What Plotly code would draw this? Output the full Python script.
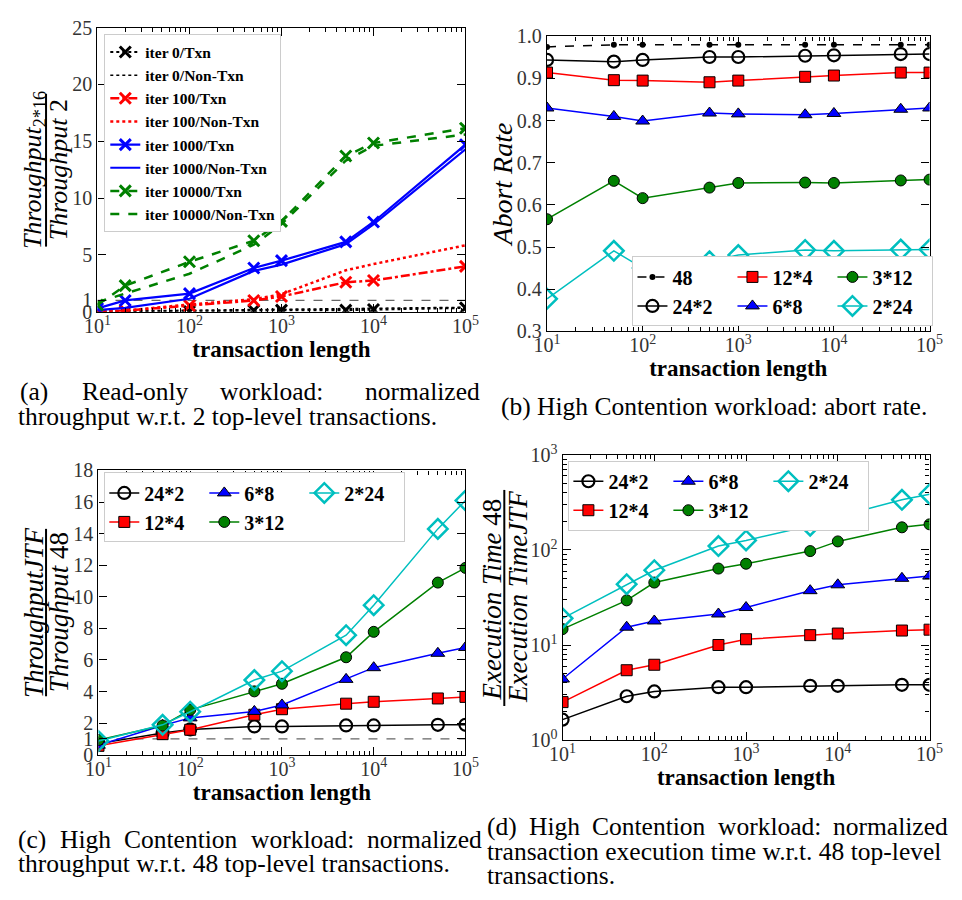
import plotly.graph_objects as go

W, H = 962, 900
SERIF = "Liberation Serif"


def px(x):
    return x / W


def py(y):
    return 1 - y / H


# ---------------- data ----------------
x_a = [10, 20, 100, 500, 1000, 5000, 10000, 100000]
a_iter0_txn = [0.02, 0.02, 0.03, 0.12, 0.15, 0.15, 0.2, 0.35]
a_iter0_non = [0.05, 0.08, 0.12, 0.2, 0.25, 0.3, 0.3, 0.4]
a_iter100_txn = [0.0, 0.1, 0.55, 1.0, 1.35, 2.6, 2.75, 4.0]
a_iter100_non = [0.0, 0.1, 0.65, 1.1, 1.55, 3.65, 4.2, 5.85]
a_iter1000_txn = [0.3, 1.0, 1.6, 3.85, 4.5, 6.15, 7.9, 14.7]
a_iter1000_non = [0.15, 0.35, 1.15, 3.6, 4.15, 5.95, 7.7, 14.3]
a_iter10000_txn = [0.6, 2.3, 4.4, 6.25, 7.95, 13.7, 14.85, 16.15]
a_iter10000_non = [0.85, 1.6, 3.35, 5.9, 7.7, 13.3, 14.6, 15.6]

x_hc = [10, 50, 100, 500, 1000, 5000, 10000, 50000, 100000]

b_48 = [0.975, 0.98, 0.98, 0.98, 0.98, 0.98, 0.98, 0.98, 0.98]
b_24x2 = [0.944, 0.940, 0.944, 0.951, 0.951, 0.954, 0.955, 0.958, 0.958]
b_12x4 = [0.914, 0.896, 0.895, 0.891, 0.895, 0.904, 0.907, 0.914, 0.914]
b_6x8 = [0.830, 0.810, 0.799, 0.818, 0.816, 0.814, 0.817, 0.827, 0.830]
b_3x12 = [0.566, 0.657, 0.616, 0.641, 0.652, 0.653, 0.652, 0.658, 0.660]
b_2x24 = [0.377, 0.491, 0.450, 0.466, 0.481, 0.493, 0.491, 0.494, 0.494]

c_24x2 = [0.7, 1.38, 1.6, 1.79, 1.79, 1.85, 1.85, 1.89, 1.89]
c_12x4 = [0.56, 1.3, 1.58, 2.53, 2.88, 3.23, 3.35, 3.56, 3.66]
c_6x8 = [0.6, 1.85, 2.33, 2.74, 3.15, 4.77, 5.51, 6.42, 6.79]
c_3x12 = [0.93, 1.85, 2.84, 4.01, 4.49, 6.17, 7.78, 10.9, 11.83]
c_2x24 = [0.86, 1.89, 2.72, 4.73, 5.29, 7.57, 9.47, 14.3, 16.1]

d_24x2 = [1.64, 2.89, 3.25, 3.6, 3.6, 3.72, 3.72, 3.81, 3.81]
d_12x4 = [2.51, 5.43, 6.2, 10.0, 11.5, 12.7, 13.2, 14.2, 14.5]
d_6x8 = [4.39, 15.4, 17.9, 21.2, 24.8, 37.3, 43.0, 50.3, 53.1]
d_3x12 = [14.7, 29.5, 45.4, 63.7, 71.6, 97.3, 123, 173, 186]
d_2x24 = [19.1, 43.6, 61.2, 110, 126, 180, 224, 337, 386]

x_tickvals = [10, 100, 1000, 10000, 100000]
x_ticktext = ["10<sup>1</sup>", "10<sup>2</sup>", "10<sup>3</sup>", "10<sup>4</sup>", "10<sup>5</sup>"]
a_yticks = [0, 1, 5, 10, 15, 20, 25]
b_yticks = [0.3, 0.4, 0.5, 0.6, 0.7, 0.8, 0.9, 1.0]
c_yticks = [0, 1, 2, 4, 6, 8, 10, 12, 14, 16, 18]
d_yticks = [1, 10, 100, 1000]
d_yticktext = ["10<sup>0</sup>", "10<sup>1</sup>", "10<sup>2</sup>", "10<sup>3</sup>"]

fig = go.Figure()

# ---------------- panel (a) ----------------
a_series = [
    ("iter 0/Txn", a_iter0_txn, "black", "dot", 2.2, True),
    ("iter 0/Non-Txn", a_iter0_non, "black", "dot", 1.5, False),
    ("iter 100/Txn", a_iter100_txn, "#ff0000", "dashdot", 2.5, True),
    ("iter 100/Non-Txn", a_iter100_non, "#ff0000", "dot", 2.5, False),
    ("iter 1000/Txn", a_iter1000_txn, "#0000ff", "solid", 2.2, True),
    ("iter 1000/Non-Txn", a_iter1000_non, "#0000ff", "solid", 2.2, False),
    ("iter 10000/Txn", a_iter10000_txn, "#008000", "dash", 2.5, True),
    ("iter 10000/Non-Txn", a_iter10000_non, "#008000", "dash", 2.5, False),
]
for name, ys, col, dash, lw, mk in a_series:
    fig.add_trace(go.Scatter(
        x=x_a, y=ys, name=name, xaxis="x", yaxis="y", legend="legend",
        mode="lines+markers" if mk else "lines",
        line=dict(color=col, dash=dash, width=lw),
        marker=dict(symbol="x-thin", size=11, color=col, line=dict(color=col, width=3)),
    ))

# ---------------- panels (b), (c), (d) ----------------
styles = {
    "48": dict(line=dict(color="black", dash="dash", width=1.5),
               marker=dict(symbol="circle", size=6, color="black")),
    "24*2": dict(line=dict(color="black", width=1.5),
                 marker=dict(symbol="circle-open", size=12, color="black", line=dict(width=2.2))),
    "12*4": dict(line=dict(color="#ff0000", width=1.5),
                 marker=dict(symbol="square", size=11, color="#ff0000", line=dict(color="black", width=1))),
    "6*8": dict(line=dict(color="#0000ff", width=1.5),
                marker=dict(symbol="triangle-up", size=12, color="#0000ff", line=dict(color="black", width=1))),
    "3*12": dict(line=dict(color="#008000", width=1.5),
                 marker=dict(symbol="circle", size=11, color="#008000", line=dict(color="black", width=1))),
    "2*24": dict(line=dict(color="#00bfbf", width=1.5),
                 marker=dict(symbol="diamond-open", size=15, color="#00bfbf", line=dict(width=2.5))),
}

b_series = [("48", b_48, "b1"), ("24*2", b_24x2, "b1"), ("12*4", b_12x4, "b2"),
            ("6*8", b_6x8, "b2"), ("3*12", b_3x12, "b3"), ("2*24", b_2x24, "b3")]
for name, ys, grp in b_series:
    fig.add_trace(go.Scatter(x=x_hc, y=ys, name=name, xaxis="x2", yaxis="y2",
                             legend="legend2", legendgroup=grp, mode="lines+markers",
                             **styles[name]))

c_series = [("24*2", c_24x2, "c1"), ("12*4", c_12x4, "c1"), ("6*8", c_6x8, "c2"),
            ("3*12", c_3x12, "c2"), ("2*24", c_2x24, "c3")]
for name, ys, grp in c_series:
    fig.add_trace(go.Scatter(x=x_hc, y=ys, name=name, xaxis="x3", yaxis="y3",
                             legend="legend3", legendgroup=grp, mode="lines+markers",
                             **styles[name]))

d_series = [("24*2", d_24x2, "d1"), ("12*4", d_12x4, "d1"), ("6*8", d_6x8, "d2"),
            ("3*12", d_3x12, "d2"), ("2*24", d_2x24, "d3")]
for name, ys, grp in d_series:
    fig.add_trace(go.Scatter(x=x_hc, y=ys, name=name, xaxis="x4", yaxis="y4",
                             legend="legend4", legendgroup=grp, mode="lines+markers",
                             **styles[name]))

# ---------------- axes ----------------
minor_x = [m * 10 ** k for k in range(1, 5) for m in range(2, 10)]
minor_y = [m * 10 ** k for k in range(0, 3) for m in range(2, 10)]
TICKFONT = dict(family=SERIF, size=20, color="#333333")
common = dict(ticks="inside", ticklen=8, tickwidth=1, tickcolor="black", showline=True,
              linecolor="black", linewidth=1.3, mirror="ticks", showgrid=False, zeroline=False,
              tickfont=TICKFONT)


def xaxis(x0, x1, anchor):
    return dict(domain=[px(x0), px(x1)], anchor=anchor, type="log", range=[1, 5],
                tickmode="array", tickvals=x_tickvals, ticktext=x_ticktext,
                ticklabelstandoff=-4,
                minor=dict(tickmode="array", tickvals=minor_x, ticks="inside", ticklen=4,
                           tickcolor="black", tickwidth=1, showgrid=False),
                title=dict(text="transaction length", standoff=2,
                           font=dict(family=SERIF, size=23, color="black", weight="bold")),
                **common)


fig.update_layout(
    xaxis=xaxis(86, 465, "y"),
    yaxis=dict(domain=[py(307), py(15)], anchor="x", range=[0, 25], tickmode="array",
               tickvals=a_yticks, **common),
    xaxis2=xaxis(549, 943, "y2"),
    yaxis2=dict(domain=[py(327), py(24)], anchor="x2", range=[0.3, 1.0], tickmode="array",
                tickvals=b_yticks, ticktext=["%.1f" % v for v in b_yticks], **common),
    xaxis3=xaxis(87, 465, "y3"),
    yaxis3=dict(domain=[py(762), py(470)], anchor="x3", range=[0, 18], tickmode="array",
                tickvals=c_yticks, **common),
    xaxis4=xaxis(565, 943, "y4"),
    yaxis4=dict(domain=[py(747), py(454)], anchor="x4", type="log", range=[0, 3],
                tickmode="array", tickvals=d_yticks, ticktext=d_yticktext,
                minor=dict(tickmode="array", tickvals=minor_y, ticks="inside", ticklen=4,
                           tickcolor="black", tickwidth=1, showgrid=False),
                **common),
)

# reference lines at 1
for xr, yr in [("x", "y"), ("x3", "y3")]:
    fig.add_shape(type="line", xref=xr + " domain", yref=yr, x0=0, x1=1, y0=1, y1=1,
                  line=dict(color="#666666", dash="dash", width=1.2), layer="below")

# ---------------- legends ----------------
LEGBOX = dict(bgcolor="white", bordercolor="#cccccc", borderwidth=1)
HFONT = dict(family=SERIF, size=20, color="black", weight="bold")
fig.update_layout(
    legend=dict(x=px(93), y=py(22), xanchor="left", yanchor="top", tracegroupgap=0,
                font=dict(family=SERIF, size=15.5, color="black", weight="bold"), **LEGBOX),
    legend2=dict(orientation="h", x=px(637), y=py(322), xanchor="left", yanchor="bottom",
                 tracegroupgap=0, entrywidth=55, font=HFONT, **LEGBOX),
    legend3=dict(orientation="h", x=px(93), y=py(472), xanchor="left", yanchor="top",
                 tracegroupgap=0, entrywidth=55, font=HFONT, **LEGBOX),
    legend4=dict(orientation="h", x=px(571), y=py(460), xanchor="left", yanchor="top",
                 tracegroupgap=0, entrywidth=55, font=HFONT, **LEGBOX),
)

# ---------------- y labels (fractions) ----------------
annotations = []


def rot(text, x, y, size):
    annotations.append(dict(text=text, x=px(x), y=py(y), xref="paper", yref="paper",
                            textangle=-90, xanchor="center", yanchor="middle", showarrow=False,
                            font=dict(family=SERIF, size=size, color="black")))


def bar(x, y0, y1):
    fig.add_shape(type="line", xref="paper", yref="paper", x0=px(x), x1=px(x),
                  y0=py(y0), y1=py(y1), line=dict(color="black", width=2))


rot("<i>Throughput</i><sub>2*16</sub>", 20, 161, 26)
bar(33, 83, 240)
rot("<i>Throughput</i> 2", 46, 161, 26)

rot("<i>Abort Rate</i>", 503, 176, 28)

rot("<i>ThroughputJTF</i>", 20, 616, 27)
bar(33, 530, 702)
rot("<i>Throughput</i> 48", 46, 616, 27)

rot("<i>Execution Time</i> 48", 492, 603, 27)
bar(505, 490, 712)
rot("<i>Execution TimeJTF</i>", 519, 600, 27)

# ---------------- captions ----------------
TW = {" ": 250, "(": 333, ")": 333, ".": 250, ":": 278, "-": 333, "*": 500,
      "a": 444, "b": 500, "c": 444, "d": 500, "e": 444, "f": 333, "g": 500, "h": 500,
      "i": 278, "j": 278, "k": 500, "l": 278, "m": 778, "n": 500, "o": 500, "p": 500,
      "q": 500, "r": 333, "s": 389, "t": 278, "u": 500, "v": 500, "w": 722, "x": 500,
      "y": 500, "z": 444, "C": 667, "H": 722, "R": 667}
CAP = 25.5


def textw(s):
    return sum(TW.get(ch, 500) for ch in s) / 1000 * CAP * 1.03


def cap_text(text, x, y, anchor="left"):
    annotations.append(dict(text=text, x=px(x), y=py(y), xref="paper", yref="paper",
                            xanchor=anchor, yanchor="middle", showarrow=False,
                            font=dict(family=SERIF, size=CAP, color="black")))


def justify(line, x0, x1, y):
    words = line.split(" ")
    widths = [textw(w) for w in words]
    gap = (x1 - x0 - sum(widths)) / (len(words) - 1)
    x = x0
    for w, wd in zip(words, widths):
        cap_text(w, x, y)
        x += wd + gap


# (a): widely justified first line, words placed as in the reference
cap_text("(a)", 4, 389)
cap_text("Read-only", 68, 389)
cap_text("workload:", 210, 389)
cap_text("normalized", 482, 389, "right")
cap_text("throughput w.r.t. 2 top-level transactions.", 2, 415)
cap_text("(b) High Contention workload: abort rate.", 721, 404, "center")
justify("(c) High Contention workload: normalized", 2, 480, 849)
cap_text("throughput w.r.t. 48 top-level transactions.", 2, 874)
justify("(d) High Contention workload: normalized", 485, 960, 836)
cap_text("transaction execution time w.r.t. 48 top-level", 485, 861)
cap_text("transactions.", 485, 886)

fig.update_layout(annotations=annotations, width=W, height=H,
                  margin=dict(l=0, r=0, t=0, b=0), paper_bgcolor="white",
                  plot_bgcolor="white", font=dict(family=SERIF))

fig.write_html("out.html")
